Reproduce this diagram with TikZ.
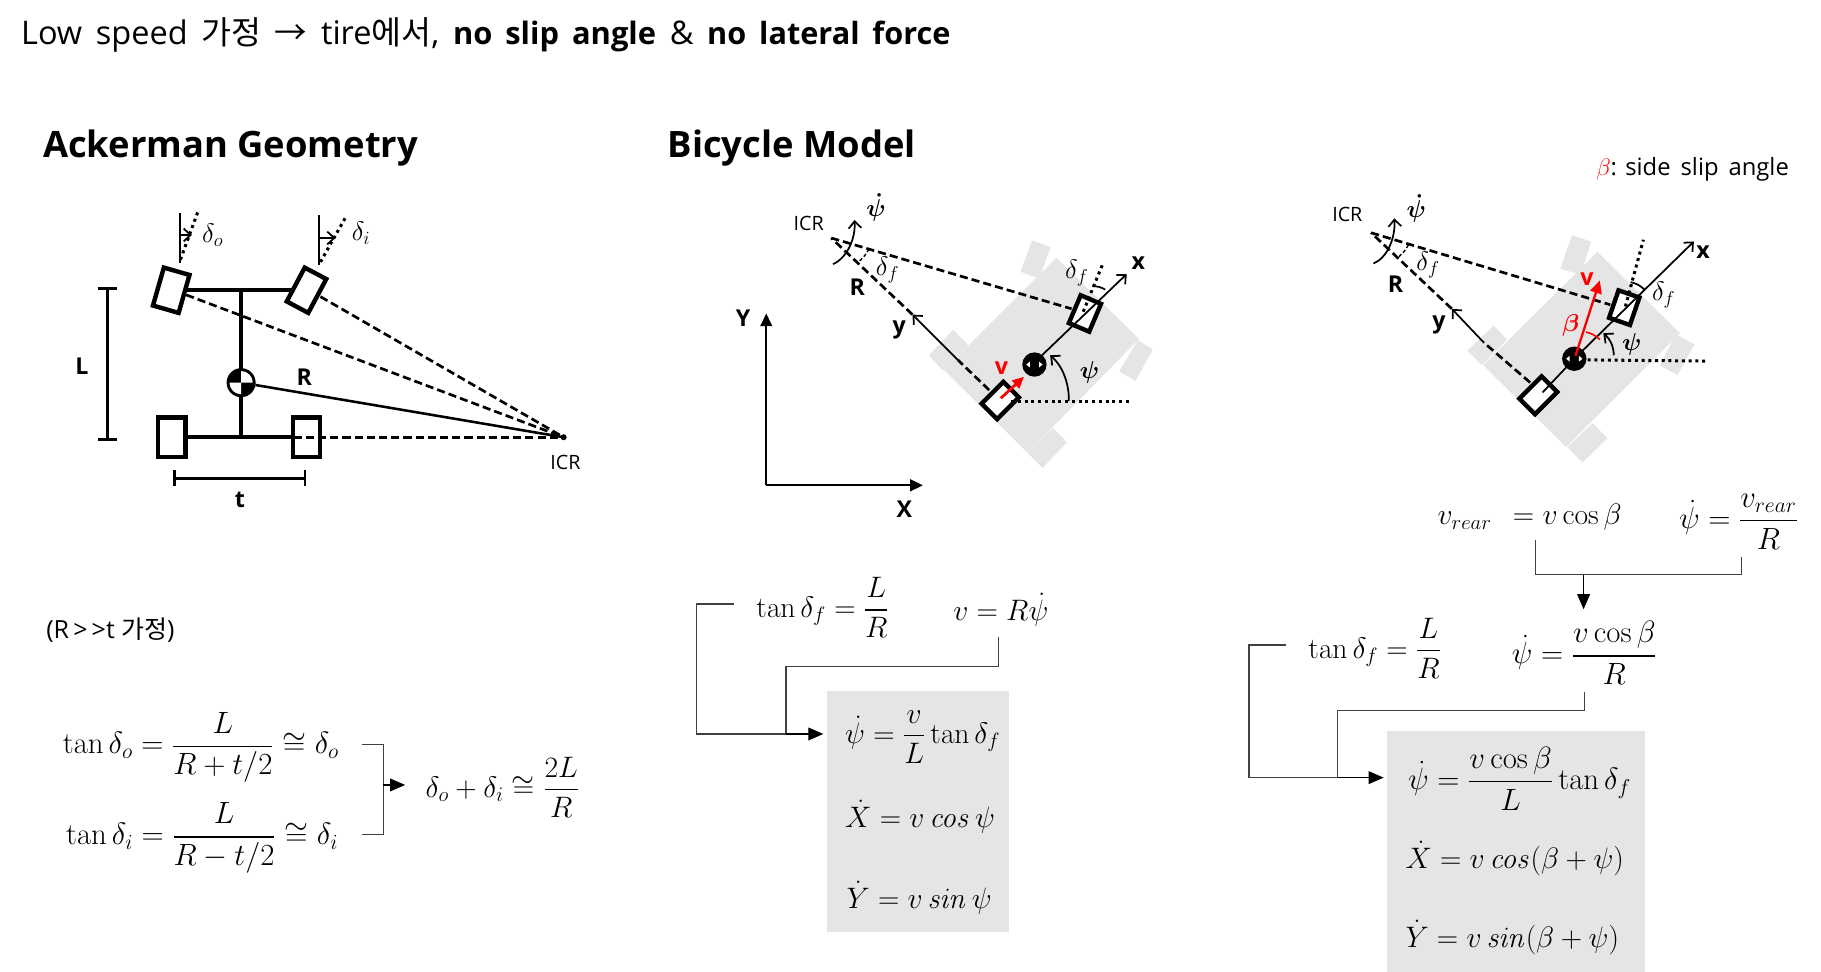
\documentclass[tikz,border=0pt]{standalone}
\usepackage{fix-cm}
\usepackage{amsmath,bm}
\usepackage[no-math]{fontspec}
\setmainfont{Open Sans}
\newfontfamily\krfont{Noto Sans CJK KR}
\usetikzlibrary{arrows.meta}
\definecolor{bodygray}{HTML}{E5E5E5}
\definecolor{wiregray}{HTML}{404040}
\begin{document}
\begin{tikzpicture}[x=1pt,y=-1pt,>=stealth,
    inner sep=0pt,
    wheel/.style={draw,fill=white,line width=3.8pt,inner sep=0pt},
    axle/.style={line width=3.6pt},
    dimln/.style={line width=2.4pt},
    dashln/.style={line width=2.3pt,dash pattern=on 7pt off 3.5pt},
    dotln/.style={line width=2.6pt,dash pattern=on 2.6pt off 3.2pt},
    thinln/.style={line width=1.5pt},
    barb/.style={-{Straight Barb[length=6pt,width=11pt]}},
    wire/.style={line width=1.1pt,color=wiregray},
    bigtip/.style={-{Triangle[length=13pt,width=11pt]},color=black},
    eqn/.style={anchor=base west,font=\fontsize{25.5}{28}\selectfont},
    eqnb/.style={anchor=base west,font=\fontsize{26.5}{30}\selectfont},
    sym/.style={font=\fontsize{23}{27}\selectfont},
    psisym/.style={font=\fontsize{21}{25}\selectfont},
    tag/.style={font=\bfseries\fontsize{20}{24}\selectfont},
    icrtag/.style={font=\fontsize{17}{20}\selectfont},
    head/.style={anchor=base west,font=\bfseries\fontsize{31.3}{38}\selectfont},
    cgdot/.style={circle,fill=black,minimum size=21pt}]
    \useasboundingbox (0,0) rectangle (1568.5,837.2);

    % heading lines
    \node [anchor=base west,font=\fontsize{28}{32}\selectfont] (title) at (18,38)
        {\spaceskip=.42em Low speed {\krfont 가정} {\krfont →} tire{\krfont 에서}, {\fontsize{26.6}{32}\selectfont\bfseries\spaceskip=.42em no slip angle} \& {\fontsize{26.4}{32}\selectfont\bfseries\spaceskip=.42em no lateral force}};
    \node [head] (ackerman) at (37,135.8) {Ackerman Geometry};
    \node [head] (bicycle) at (575,135.8) {Bicycle Model};
    \node [anchor=base east,font=\fontsize{20.5}{25}\selectfont] (legend) at (1541,151)
        {\textcolor{red}{$\beta$}: \spaceskip=.42em side slip angle};

    % ackerman
    \coordinate (ICRa) at (485.5,376.6);
    \coordinate (FLa) at (147.5,250);
    \coordinate (FRa) at (264,250);
    \coordinate (RLa) at (148,376.6);
    \coordinate (RRa) at (264,376.6);
    \coordinate (CGa) at (207.7,329.6);
    \draw [axle] (FLa) -- (FRa);
    \draw [axle] (RLa) -- (RRa);
    \draw [axle] (207.7,248.3) -- (207.7,376.6);
    \node [wheel,rotate=74,minimum width=34pt,minimum height=23pt] (wFLa) at (FLa) {};
    \node [wheel,rotate=62,minimum width=33pt,minimum height=21pt] (wFRa) at (FRa) {};
    \node [wheel,minimum width=23.5pt,minimum height=34pt] (wRLa) at (RLa) {};
    \node [wheel,minimum width=23.5pt,minimum height=34pt] (wRRa) at (RRa) {};
    \draw [dashln] (160.4,254) -- (ICRa);
    \draw [dashln] (276,255.5) -- (ICRa);
    \draw [dashln] (253,376.6) -- (ICRa);
    \fill (ICRa) circle (2.6pt);
    \fill (CGa) circle (12.5pt);
    \fill [white] (CGa) -- ++(0,-10) arc (90:0:10pt) -- cycle;
    \fill [white] (CGa) -- ++(0,10) arc (270:180:10pt) -- cycle;
    \draw [line width=2.2pt] (220,331.6) -- (ICRa);
    \draw [dimln] (92.4,248.3) -- (92.4,378.4);
    \draw [dimln] (84,248.3) -- (100.8,248.3);
    \draw [dimln] (84,378.4) -- (100.8,378.4);
    \draw [dimln] (150.3,412) -- (262.7,412);
    \draw [dimln] (150.3,404.8) -- (150.3,419);
    \draw [dimln] (262.7,404.8) -- (262.7,419);
    \draw [thinln] (154.9,183.7) -- (154.9,226.8);
    \draw [dotln] (170.2,183) -- (154.9,225);
    \draw [thinln,barb] (155.5,202.4) -- (165.3,202.4);
    \draw [thinln] (274.8,185) -- (274.8,228);
    \draw [dotln] (297.2,188) -- (275.4,226.8);
    \draw [thinln,barb] (275,205) -- (289,205);
    \node [sym] (delo) at (183.2,202.4) {$\delta_o$};
    \node [sym] (deli) at (311,201) {$\delta_i$};
    \node [tag] (Lbl) at (70.5,315.8) {L};
    \node [tag] (tbl) at (206.6,431) {t};
    \node [tag] (Rbl) at (262,325) {R};
    \node [icrtag] (ICRlbl) at (487,398.5) {ICR};

    \node [anchor=base west,font=\fontsize{21.5}{25}\selectfont] (assume) at (39.7,549.8) {(R\,{>}\,{>}t {\krfont 가정})};
    \node [eqnb] (eqo) at (53.9,649.3) {$\displaystyle \tan\delta_o=\frac{L}{R+t/2}\cong\delta_o$};
    \node [eqnb] (eqi) at (56.7,727.6) {$\displaystyle \tan\delta_i=\frac{L}{R-t/2}\cong\delta_i$};
    \node [eqn] (eqsum) at (366.5,686.6) {$\displaystyle \delta_o+\delta_i\cong\frac{2L}{R}$};
    \coordinate (bo) at (311.5,641.1);
    \coordinate (bi) at (311.5,718.6);
    \coordinate (bs) at (330.3,676.1);
    \coordinate (bt) at (349,676.1);
    \draw [wire] (bo) -| (bi -| bs) -- (bi);
    \draw [wire,bigtip] (bs) -- (bt);

    % bicycle model
    \coordinate (ICRb) at (716,205);
    \coordinate (CGb) at (891,314);
    \fill [bodygray] (910,222) -- (981,292) -- (885,390) -- (813,318.5) -- cycle;
    \fill [bodygray] (889,207) -- (905,213) -- (895,240) -- (879,234) -- cycle;
    \fill [bodygray] (980,293) -- (993,301) -- (978,328) -- (964,320) -- cycle;
    \fill [bodygray] (821,284) -- (834,297) -- (812,319) -- (800,306) -- cycle;
    \fill [bodygray] (907,368.5) -- (919,381) -- (898,403) -- (885,390) -- cycle;
    \node [wheel,rotate=45,minimum width=26.5pt,minimum height=19pt] (rearb) at (861.5,345) {};
    \node [wheel,rotate=67,minimum width=26pt,minimum height=19pt] (frontb) at (934.5,270) {};
    \draw [thinln,barb] (897.5,306) -- (970.5,236);
    \draw [dashln] (ICRb) -- (923,266);
    \draw [dashln] (852,336) -- (825,310);
    \draw [thinln,barb] (825,310) -- (786,271);
    \draw [dashln] (786,271) -- (ICRb);
    \draw [dotln] (871,345.5) -- (975,345.5);
    \draw [dotln] (933,268.5) -- (950,227);
    \draw [thinln] (941,246.5) to [bend left=15] (952,249.5);
    \draw [thinln,barb] (920.6,345.5) .. controls (921,330) and (915,315) .. (904.5,306);
    \draw [thinln,barb] (717.5,227.5) .. controls (730,222) and (737,205) .. (736,189.5);
    \draw [line width=1.2pt,dash pattern=on 3pt off 2pt] (748.5,214.5) to [bend left=10] (739.5,225.5);
    \node [cgdot] (cgb) at (CGb) {};
    \fill [white] (884,314) -- (887,311.5) -- (887,316.5) -- cycle;
    \fill [white] (898,314) -- (895,311.5) -- (895,316.5) -- cycle;
    \draw [red,line width=2.4pt,-{Triangle[length=10pt,width=9pt]}] (862,343) -- (882,324.5);
    \node [icrtag] (ICRblbl) at (696.5,192.5) {ICR};
    \node [psisym] (psib) at (754.5,179) {$\bm{\dot\psi}$};
    \node [sym] (delb) at (764.5,232.5) {$\delta_f$};
    \node [sym] (delbb) at (927.5,235) {$\delta_f$};
    \node [tag] (Rb) at (738.5,247.5) {R};
    \node [tag] (yb) at (774.5,284.5) {y};
    \node [tag] (xb) at (980.5,226.5) {x};
    \node [tag,red] (vb) at (862.5,317.5) {v};
    \node [psisym] (pb) at (938.5,320.5) {$\bm{\psi}$};

    \coordinate (O) at (660,418);
    \draw [line width=2pt,-{Triangle[length=11pt,width=10pt]}] (O) -- (660,270);
    \draw [line width=2pt,-{Triangle[length=11pt,width=10pt]}] (O) -- (795,418);
    \node [tag] (Yb) at (640,274) {Y};
    \node [tag] (Xb) at (779,439) {X};

    \node [eqn] (tanb) at (651.2,531.8) {$\displaystyle \tan\delta_f=\frac{L}{R}$};
    \node [eqn] (vRb) at (821,534.6) {$\displaystyle v=R\dot\psi$};
    \fill [bodygray] (712.3,595.1) rectangle (869,802.4);
    \node [eqn] (eqbp) at (727.8,640) {$\displaystyle \dot\psi=\frac{v}{L}\tan\delta_f$};
    \node [eqn] (eqbx) at (727.8,712.6) {$\dot X=v\,\mathit{cos}\,\psi$};
    \node [eqn] (eqby) at (729,782.3) {$\dot Y=v\,\mathit{sin}\,\psi$};
    \coordinate (bT) at (632.5,520.2);
    \coordinate (bV) at (859.9,548.3);
    \coordinate (bJ) at (677,632.2);
    \coordinate (bE) at (709.2,632.2);
    \draw [wire] (bT) -| (600,632.2) -- (bJ);
    \draw [wire] (bV) |- (677,574.2) -- (bJ);
    \draw [wire,bigtip] (bJ) -- (bE);

    % with side slip
    \coordinate (ICRc) at (1181,200.5);
    \coordinate (CGc) at (1356,309);
    \fill [bodygray] (1376,217) -- (1447,287) -- (1349,385) -- (1277.5,314.5) -- cycle;
    \fill [bodygray] (1354,202.5) -- (1370.5,208) -- (1361.5,236.5) -- (1344,231.5) -- cycle;
    \fill [bodygray] (1443,288) -- (1459.5,296.5) -- (1445,323) -- (1430,315) -- cycle;
    \fill [bodygray] (1286.5,280.5) -- (1298,292.5) -- (1276.5,314.5) -- (1264,302) -- cycle;
    \fill [bodygray] (1372,364.5) -- (1384.5,377.5) -- (1363,398.5) -- (1350,385) -- cycle;
    \node [wheel,rotate=45,minimum width=27pt,minimum height=19pt] (rearc) at (1325,340.5) {};
    \node [wheel,rotate=71,minimum width=25pt,minimum height=19pt] (frontc) at (1399,265) {};
    \draw [thinln] (1328.7,338) -- (CGc);
    \draw [thinln,barb] (CGc) -- (1459,208);
    \draw [dashln] (ICRc) -- (1387,262.5);
    \draw [dashln] (1318,329.5) -- (1278,295);
    \draw [thinln,barb] (1278,295) -- (1250.5,266);
    \draw [dashln] (1250.5,266) -- (ICRc);
    \draw [dotln] (1367.5,310) -- (1470,311);
    \draw [dotln] (1400,264) -- (1415.5,206.5);
    \draw [thinln] (1404.5,243) to [bend left=15] (1416.5,249.5);
    \draw [thinln,barb] (1390,306) .. controls (1390,299) and (1387,292) .. (1381,287);
    \draw [thinln,barb] (1183,227) .. controls (1195,222) and (1202,205) .. (1201,188);
    \draw [line width=1.2pt,dash pattern=on 3pt off 2pt] (1213,211) to [bend left=10] (1205,221);
    \node [cgdot] (cgc) at (CGc) {};
    \fill [white] (1349,309) -- (1352,306.5) -- (1352,311.5) -- cycle;
    \fill [white] (1363,309) -- (1360,306.5) -- (1360,311.5) -- cycle;
    \draw [red,line width=2pt,-{Triangle[length=11pt,width=10pt]}] (1357,306.5) -- (1378,241.5);
    \draw [red,line width=1.4pt] (1366,286) to [bend left=15] (1378,292.5);
    \node [icrtag] (ICRclbl) at (1160.5,184.5) {ICR};
    \node [psisym] (psic) at (1220,179.5) {$\bm{\dot\psi}$};
    \node [sym] (delc) at (1230,228) {$\delta_f$};
    \node [sym] (delcc) at (1433,254) {$\delta_f$};
    \node [tag] (Rc) at (1202,244.5) {R};
    \node [tag] (yc) at (1239.5,280) {y};
    \node [tag] (xc) at (1467,217.5) {x};
    \node [tag,red] (vc) at (1367,240.5) {v};
    \node [psisym,red] (bc) at (1353,280.5) {$\bm{\beta}$};
    \node [psisym] (pc) at (1405.5,296.5) {$\bm{\psi}$};

    \node [eqn] (vrear) at (1238,452) {$v_{rear}\;\,=v\cos\beta$};
    \node [eqnb] (psir) at (1446,455) {$\displaystyle \dot\psi=\frac{v_{rear}}{R}$};
    \node [eqn] (tanc) at (1126.8,567) {$\displaystyle \tan\delta_f=\frac{L}{R}$};
    \node [eqnb] (psic2) at (1302,571.7) {$\displaystyle \dot\psi=\frac{v\cos\beta}{R}$};
    \fill [bodygray] (1194.7,629.6) rectangle (1416.9,837.2);
    \node [eqnb] (eqcp) at (1212.7,680) {$\displaystyle \dot\psi=\frac{v\cos\beta}{L}\tan\delta_f$};
    \node [eqn] (eqcx) at (1210.4,747.9) {$\dot X=v\,\mathit{cos}(\beta+\psi)$};
    \node [eqn] (eqcy) at (1210.4,816) {$\dot Y=v\,\mathit{sin}(\beta+\psi)$};
    \coordinate (cA) at (1322.5,465);
    \coordinate (cB) at (1500,479.4);
    \coordinate (cC) at (1364,495);
    \coordinate (cD) at (1364,524.8);
    \coordinate (cT) at (1108,555.5);
    \coordinate (cV) at (1364.5,596.3);
    \coordinate (cJ) at (1152.2,669.8);
    \coordinate (cE) at (1191.8,669.8);
    \draw [wire] (cA) |- (cC);
    \draw [wire] (cB) |- (cC);
    \draw [wire,bigtip] (cC) -- (cD);
    \draw [wire] (cT) -| (1075.7,669.8) -- (cJ);
    \draw [wire] (cV) |- (1152.2,612) -- (cJ);
    \draw [wire,bigtip] (cJ) -- (cE);
\end{tikzpicture}
\end{document}
